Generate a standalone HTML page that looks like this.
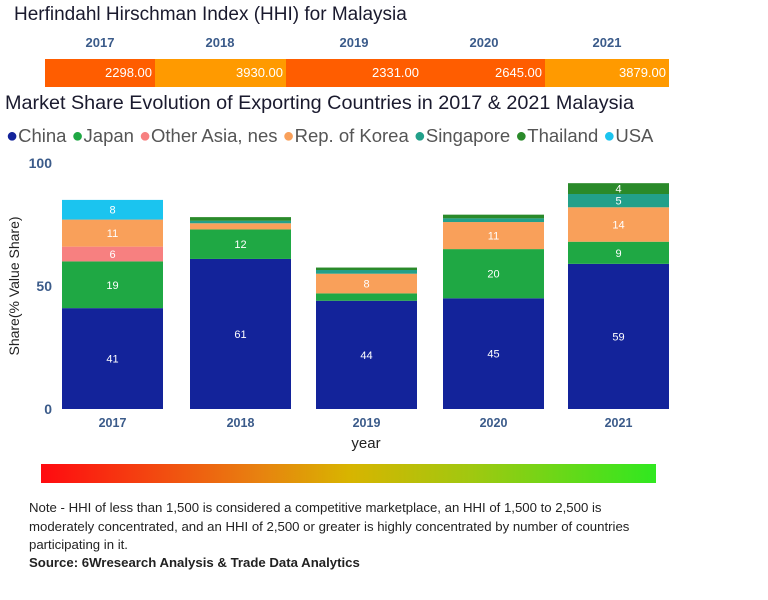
<!DOCTYPE html>
<html><head><meta charset="utf-8">
<style>
body{margin:0;background:#fff;font-family:"Liberation Sans",sans-serif;}
#root{position:relative;width:768px;height:600px;overflow:hidden;}
.abs{position:absolute;}
</style></head>
<body>
<div id="root">
<div class="abs" style="left:14px;top:4px;font-size:19px;color:#1a1a2e;">Herfindahl Hirschman Index (HHI) for Malaysia</div>
<div id="hhi"></div>
<div class="abs" style="left:5px;top:92px;font-size:19.8px;color:#1a1a2e;">Market Share Evolution of Exporting Countries in 2017 &amp; 2021 Malaysia</div>
<div id="legend" class="abs" style="left:6px;top:125px;font-size:18.5px;color:#555;white-space:nowrap;"></div>
<svg id="chart" class="abs" style="left:0;top:0" width="768" height="600"></svg>
<div class="abs" style="left:41px;top:464px;width:615px;height:19px;background:linear-gradient(to right,#ff0a10,#e88010 35%,#d8b400 50%,#a0c810 70%,#30e820);"></div>
<div class="abs" style="left:29px;top:499px;width:605px;font-size:13.2px;line-height:18.5px;color:#222;">Note - HHI of less than 1,500 is considered a competitive marketplace, an HHI of 1,500 to 2,500 is moderately concentrated, and an HHI of 2,500 or greater is highly concentrated by number of countries participating in it.</div>
<div class="abs" style="left:29px;top:555px;font-size:13.2px;font-weight:bold;color:#222;">Source: 6Wresearch Analysis &amp; Trade Data Analytics</div>
</div>
<script>
const years=["2017","2018","2019","2020","2021"];
const hhiValues=[2298,3930,2331,2645,3879];
const seriesNames=["China","Japan","Other Asia, nes","Rep. of Korea","Singapore","Thailand","USA"];
const china=[41,61,44,45,59];
const japan=[19,12,3,20,9];
const otherAsia=[6,0,0,0,0];
const korea=[11,2.5,8,11,14];
const singapore=[0,1,1.5,1.5,5.4];
const thailand=[0,1.5,1,1.5,4.4];
const usa=[8,0,0,0,0];
const yTicks=[0,50,100];
const colors=["#13239a","#1fa844","#f78080","#f9a05a","#22a08a","#2a8a2a","#1bc4ef"];
const series=[china,japan,otherAsia,korea,singapore,thailand,usa];

const hhi=document.getElementById('hhi');
const hx=[45,155,286,422,545,669];
years.forEach((y,i)=>{
  const lab=document.createElement('div');
  lab.className='abs';
  
  
  lab.style.cssText=`left:${[100,220,354,484,607][i]-30}px;width:60px;text-align:center;top:35px;font-size:13px;font-weight:bold;color:#3b5b8a;`;
  lab.textContent=y;hhi.appendChild(lab);
  const box=document.createElement('div');
  box.className='abs';
  
  
  const c=hhiValues[i]>=3500?'#ff9a00':'#ff5d00';
  box.style.cssText=`left:${hx[i]}px;width:${hx[i+1]-hx[i]}px;top:59px;height:28px;background:${c};color:#fff;font-size:13px;text-align:right;line-height:28px;box-sizing:border-box;padding-right:3px;`;
  box.textContent=hhiValues[i].toFixed(2);hhi.appendChild(box);
});

const lg=document.getElementById('legend');
seriesNames.forEach((n,i)=>{
  const s=document.createElement('span');
  
  
  s.style.marginRight='5px';
  s.innerHTML=`<span style="color:${colors[i]};font-size:20px">●</span>${n}`;
  lg.appendChild(s);
});

const svg=document.getElementById('chart');
const NS='http://www.w3.org/2000/svg';
const y0=409,pxPer=2.46;
const yS=v=>y0-v*pxPer;
const barX=[62,190,316,443,568],barW=101;
const xS=i=>barX[i];
function el(t,a,txt){const e=document.createElementNS(NS,t);for(const k in a)e.setAttribute(k,a[k]);if(txt!==undefined)e.textContent=txt;svg.appendChild(e);return e;}
yTicks.forEach(t=>{
  const e=el('text',{x:52,y:yS(t)+5,'text-anchor':'end','font-size':14,'font-weight':'bold',fill:'#3b5b8a','font-family':'Liberation Sans'},t);
  
  
});
const yt=el('text',{x:0,y:0,transform:'translate(19,286) rotate(-90)','text-anchor':'middle','font-size':14,fill:'#222','font-family':'Liberation Sans'},'Share(% Value Share)');


years.forEach((yr,i)=>{
  let acc=0;
  series.forEach((s,k)=>{
    const v=s[i];if(!v)return;
    const r=el('rect',{x:xS(i),y:yS(acc+v),width:barW,height:v*pxPer,fill:colors[k]});
    
    
    if(v>=3.5){
      const t=el('text',{x:xS(i)+barW/2,y:yS(acc+v/2)+4,'text-anchor':'middle','font-size':11,fill:'#fff','font-family':'Liberation Sans'},Math.round(v));
      
      
    }
    acc+=v;
  });
  const xl=el('text',{x:xS(i)+barW/2,y:427,'text-anchor':'middle','font-size':12.5,'font-weight':'bold',fill:'#3b5b8a','font-family':'Liberation Sans'},yr);
  
  
});
const xt=el('text',{x:366,y:448,'text-anchor':'middle','font-size':15,fill:'#222','font-family':'Liberation Sans'},'year');


</script>
</body></html>
